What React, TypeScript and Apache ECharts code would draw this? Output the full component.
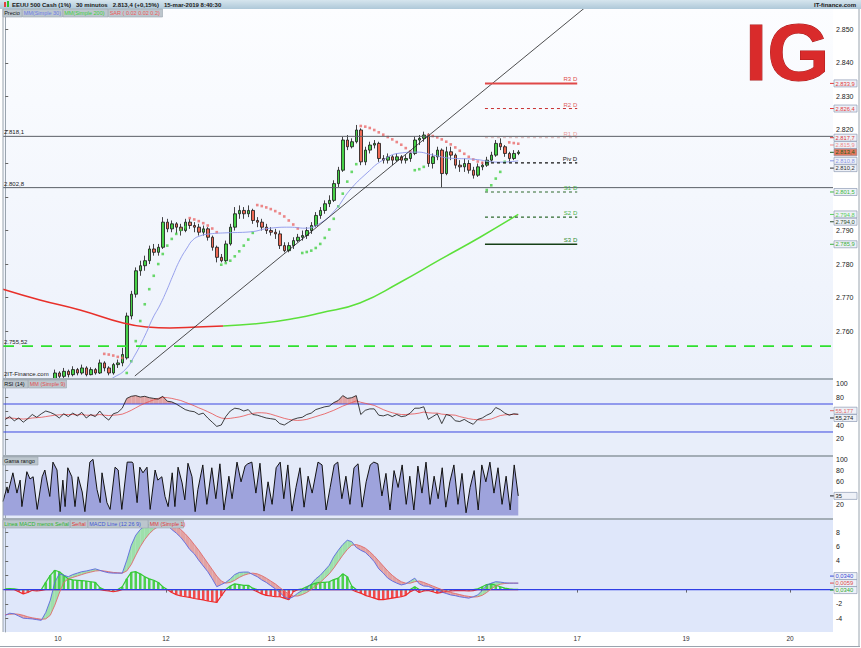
import React, { useEffect, useRef } from 'react';
import * as echarts from 'echarts';

// ---------------- data ----------------
const dayTicks = [11.7, 35.7, 59.1, 81.9, 105.7, 127.1, 151.3, 174.4];
const dayLabels = ['10', '12', '13', '14', '15', '17', '19', '20'];
const priceTicks = [2760, 2770, 2780, 2790, 2800, 2810, 2820, 2830, 2840, 2850];
const rsiTicks = [20, 40, 60, 80, 100];
const gamaTicks = [20, 40, 60, 80, 100];
const macdTicks = [-4, -2, 0, 2, 4, 6, 8];

// [open, close, low, high] per bar
const candles = [
  [2733, 2731, 2729, 2735], [2731, 2733, 2730, 2735], [2733, 2730, 2728, 2734], [2730, 2729, 2727, 2732],
  [2729, 2731, 2728, 2733], [2731, 2730, 2728, 2733], [2730, 2732, 2729, 2734], [2732, 2731, 2729, 2733],
  [2731, 2733, 2730, 2735], [2733, 2738, 2732, 2739], [2738, 2745, 2737, 2745.5],
  [2745.5, 2747.5, 2745, 2748.5], [2747.5, 2746.5, 2745.8, 2748], [2746.5, 2748, 2746, 2749], [2748, 2747, 2746.2, 2748.5],
  [2747, 2748.5, 2746.5, 2749.5], [2748.5, 2747.5, 2746.8, 2749], [2747.5, 2749, 2747, 2750], [2749, 2747, 2746.5, 2749.5],
  [2747, 2748.5, 2746.8, 2749.2], [2748.5, 2747.5, 2747, 2749], [2747.5, 2750.5, 2747.2, 2751.5], [2750.5, 2749, 2748, 2751],
  [2749, 2747.5, 2746.8, 2749.5], [2747.5, 2750, 2747, 2750.5], [2750, 2750.5, 2749, 2751.5], [2750.5, 2753, 2749.5, 2755],
  [2752, 2764.5, 2751.5, 2765.5], [2764.5, 2771, 2763.5, 2772], [2771, 2778, 2770, 2779], [2778, 2779.5, 2776.5, 2781],
  [2779.5, 2781, 2778, 2782.5], [2781, 2784.5, 2780, 2785.5], [2784.5, 2783.5, 2782.5, 2786], [2783.5, 2785, 2782.5, 2786],
  [2785, 2792.5, 2784.5, 2794], [2792.5, 2790.5, 2789.5, 2793.5], [2790.5, 2792, 2789.5, 2793], [2792, 2791, 2789, 2792.5],
  [2791, 2790, 2788.5, 2792], [2790, 2792.5, 2789.5, 2793.5], [2792.5, 2791.5, 2790.5, 2793.5], [2791.5, 2791, 2789.5, 2792.5],
  [2791, 2789.5, 2788.5, 2792], [2789.5, 2790.5, 2788.5, 2791.5], [2790.5, 2788, 2787, 2791], [2788, 2785, 2784, 2788.5],
  [2785, 2782, 2780.5, 2785.5], [2782, 2781, 2780.5, 2783], [2781, 2786, 2780.5, 2787], [2786, 2791, 2785.5, 2792],
  [2791, 2795, 2790, 2797], [2795, 2796, 2793.5, 2797.5], [2796, 2795, 2793.5, 2797], [2795, 2796, 2794, 2797.5],
  [2796, 2793, 2792, 2796.5], [2793, 2792.5, 2791, 2794], [2792.5, 2791, 2790, 2793.5], [2791, 2790, 2789, 2792],
  [2790, 2789.5, 2788.5, 2791], [2789.5, 2789, 2787.5, 2790.5], [2789, 2785.5, 2784.5, 2790], [2785.5, 2784, 2783.5, 2786.5],
  [2784, 2785.5, 2783.5, 2786.5], [2785.5, 2787, 2784.5, 2788], [2787, 2788, 2786.5, 2789], [2788, 2788.5, 2787, 2790],
  [2788.5, 2790, 2787.5, 2791], [2790, 2791.5, 2789, 2792.5], [2791.5, 2794.5, 2791, 2795.5], [2794.5, 2796, 2793.5, 2797],
  [2796, 2798, 2795, 2799], [2798, 2799, 2797, 2800.5], [2799, 2804, 2798.5, 2805], [2804, 2808, 2803, 2809],
  [2808, 2817, 2807.5, 2818], [2817, 2815, 2814, 2818.5], [2815, 2816.5, 2814.5, 2817.5], [2816.5, 2820, 2816, 2821.5],
  [2820, 2810.5, 2809.5, 2820.5], [2810.5, 2814, 2809.5, 2815], [2814, 2815.5, 2813, 2816.5], [2815.5, 2816, 2814.5, 2817],
  [2816, 2811.5, 2810.5, 2816.5], [2811.5, 2811, 2810, 2812.5], [2811, 2812, 2810, 2813], [2812, 2811, 2809.5, 2812.5],
  [2811, 2812, 2810.5, 2813], [2812, 2811, 2810, 2812.5], [2811, 2811.5, 2810, 2812.5], [2811.5, 2813, 2810.5, 2813.5],
  [2813, 2817, 2812.5, 2818], [2817, 2817.5, 2815.5, 2818.5], [2817.5, 2818.5, 2816.5, 2819.5], [2818.5, 2810, 2809, 2819],
  [2810, 2812, 2808.5, 2813], [2812, 2814, 2811, 2815], [2814, 2807, 2802.8, 2814.5], [2807, 2813.5, 2806.5, 2815],
  [2813.5, 2812.5, 2811, 2815], [2812.5, 2809.5, 2808.5, 2813], [2809.5, 2809, 2807.5, 2811], [2809, 2810, 2807.5, 2811.5],
  [2810, 2808, 2807, 2811], [2808, 2806.5, 2805.5, 2809], [2806.5, 2809, 2806, 2810], [2809, 2809.5, 2808, 2810.5],
  [2809.5, 2811, 2809, 2812], [2811, 2812.5, 2810.5, 2813.5], [2812.5, 2816, 2812, 2817], [2816, 2815, 2814, 2817.5],
  [2815, 2813, 2812, 2815.5], [2813, 2811.5, 2810.5, 2813.5], [2811.5, 2813, 2811, 2814], [2813, 2813.4, 2812.5, 2814],
];

// [bar, value]
const ma30 = [
  [20, 2742.5], [23.9, 2746.0], [26.6, 2748.4], [28.8, 2752.8], [31.1, 2758.8], [32.8, 2763.9], [34.4, 2767.8],
  [35.9, 2772.2], [37.3, 2776.7], [38.8, 2781.2], [40.4, 2784.8], [41.7, 2787.2], [43.3, 2788.4], [45.5, 2789.0],
  [48.8, 2789.3], [54.4, 2789.6], [58.8, 2790.7], [63.3, 2791.0], [66.6, 2790.7], [70.0, 2792.2], [73.3, 2796.1],
  [76.6, 2802.1], [80.4, 2807.2], [83.9, 2811.0], [87.7, 2813.1], [91.5, 2813.4], [95.1, 2812.5], [98.8, 2811.6],
  [103.9, 2811.3], [109.9, 2810.4], [114, 2810.8],
];
const ma200Falling = [
  [-0.5, 2772.5], [7.7, 2769.3], [16.6, 2766.3], [26.2, 2762.4], [31.5, 2761.2], [36.6, 2760.9], [42.6, 2761.2], [48.4, 2761.5],
];
const ma200Rising = [
  [48.4, 2761.5], [57.3, 2762.4], [64.8, 2763.9], [70, 2765.4], [78.8, 2768.4], [87.7, 2774.5], [96.6, 2781.3],
  [105.5, 2788.0], [114, 2794.8],
];
const sarUp = [
  [27, 2747.5], [28, 2751], [29, 2757], [30, 2763], [31, 2768], [32, 2772.5], [33, 2776.5], [34, 2780], [35, 2783],
  [36, 2785.5], [37, 2787.5], [38, 2789], [39, 2790.2], [40, 2791],
  [48, 2779.8], [49, 2780.3], [50, 2781], [51, 2782.3], [52, 2783.8], [53, 2785.5], [54, 2787.3], [55, 2789.3],
  [66, 2783.3], [67, 2783.6], [68, 2784], [69, 2784.8], [70, 2786], [71, 2787.8], [72, 2790.3], [73, 2793.5],
  [74, 2797.2], [75, 2801], [76, 2804.6], [77, 2807.5], [78, 2809.8],
  [91, 2808], [92, 2808.3], [93, 2809],
  [107, 2802.1], [108, 2803.5], [109, 2805.5], [110, 2807.5], [111, 2810.5],
];
const sarDown = [
  [22, 2753.2], [23, 2753], [24, 2752.7], [25, 2752.3], [26, 2752],
  [41, 2793.7], [42, 2793.3], [43, 2792.8], [44, 2792.2], [45, 2791.5], [46, 2790.6], [47, 2789.5],
  [56, 2797.6], [57, 2797.3], [58, 2796.9], [59, 2796.4], [60, 2795.8], [61, 2795.1], [62, 2794.2], [63, 2793],
  [64, 2791.8], [65, 2790.6],
  [79, 2821.2], [80, 2821], [81, 2820.6], [82, 2820], [83, 2819.3], [84, 2818.6], [85, 2817.9], [86, 2817.2],
  [87, 2816.4], [88, 2815.6], [89, 2814.6], [90, 2813.6],
  [94, 2818.5], [95, 2818.2], [96, 2817.8], [97, 2817.2], [98, 2816.5], [99, 2815.7], [100, 2814.8], [101, 2813.8],
  [102, 2812.9], [103, 2812], [104, 2811.2], [105, 2810.6], [106, 2810.2],
  [112, 2816.3], [113, 2816.1], [114, 2815.9],
];
const trendLine = [[28.8, 2746.6], [130, 2857.8]];
const levelValues = [2818.1, 2802.8];
const levelLabels = ['2.818,1', '2.802,8'];
const supportValue = 2755.52;
const supportLabel = '2.755,52';
const pivotNames = ['R3 D', 'R2 D', 'R1 D', 'Piv D', 'S1 D', 'S2 D', 'S3 D'];
const pivotValues = [2833.9, 2826.4, 2817.7, 2810.2, 2801.5, 2794.0, 2785.9];
const pivotFrom = 106.6;
const pivotTo = 127.1;

const rsi = [
  48, 52, 46, 50, 44, 49, 55, 51, 56, 60, 58, 55, 50, 56, 52, 57, 53, 58, 50, 55,
  52, 60, 52, 47, 56, 58, 64, 78, 81, 82, 80, 81, 79, 78, 77, 81, 74, 73, 70, 66,
  62, 60, 59, 55, 57, 50, 44, 38, 40, 52, 60, 64, 63, 60, 62, 55, 54, 52, 50, 49,
  48, 42, 40, 44, 48, 50, 51, 55, 57, 62, 64, 66, 67, 72, 75, 82, 78, 79, 82, 55,
  61, 63, 63, 54, 53, 55, 52, 55, 52, 53, 57, 64, 64, 66, 48, 52, 56, 42, 55, 53,
  46, 45, 48, 44, 41, 48, 50, 54, 57, 65, 62, 57, 54, 56, 55.3,
];
const rsiMa = [
  50, 50, 49.5, 49, 48.5, 49, 50, 50.5, 51, 52, 53, 54, 54.5, 55, 55, 55, 54.5, 55, 54, 54,
  54, 55, 54, 53.5, 54, 54.5, 55.5, 58, 61, 64.5, 68, 71, 73.5, 76, 78, 79.5, 79, 78, 76.5, 75,
  72.5, 70, 67.5, 64.5, 62, 59, 56, 52.5, 50, 49, 49.5, 50.5, 51.5, 53, 55, 56.5, 57.5, 57.5, 57, 55.5,
  53.5, 51.5, 49.5, 48, 47, 46.5, 47, 48, 50, 52, 54, 56, 58.5, 61, 64, 67, 69.5, 72, 74.5, 72.5,
  71, 69.5, 68, 65, 62, 59.5, 57.5, 56, 55, 55, 55.5, 56, 57, 58.5, 57.5, 57, 57, 55.5, 55, 54.5,
  54, 52, 50.5, 49, 48, 47.5, 47, 47.5, 48.5, 51, 53.5, 54.5, 55, 55.2, 55.2,
];
const gama = [
  [-0.5, 25], [0.4, 51], [0.6, 40], [1.7, 76], [2.6, 40], [3.3, 63], [3.7, 16], [4.8, 78], [5.5, 65], [6.2, 69],
  [7.1, 11], [8.2, 69], [8.8, 81], [9.9, 34], [10.6, 95], [11.5, 81], [12.2, 7], [12.8, 63], [13.3, 16], [13.9, 85],
  [14.8, 69], [15.5, 16], [16.2, 69], [17.1, 42], [17.7, 7], [18.8, 95], [19.5, 100], [20.4, 46], [21.1, 23], [21.5, 76],
  [22.6, 23], [23.3, 11], [24.4, 86], [25.1, 81], [25.9, 11], [27.1, 95], [28.2, 95], [28.4, 93], [29.3, 23], [29.9, 86],
  [30.6, 76], [31.5, 86], [32.2, 11], [33.3, 81], [33.9, 63], [34.8, 69], [35.5, 34], [36.2, 16], [37.1, 76], [37.7, 16],
  [38.4, 86], [39.3, 58], [39.9, 28], [40.6, 93], [41.5, 69], [42.2, 7], [42.8, 46],
  [43.9, 90], [44.8, 20], [45.9, 85], [46.8, 30], [47.7, 92], [48.6, 10], [49.7, 70], [50.4, 30], [51.5, 95], [52.4, 60],
  [53.3, 88], [53.9, 92], [54.8, 95], [55.7, 40], [56.6, 93], [57.5, 8], [58.4, 60], [59.3, 20], [60.2, 85], [61.1, 95],
  [61.9, 30], [62.8, 90], [63.7, 8], [64.6, 50], [65.5, 85], [66.4, 15], [67.3, 70], [68.2, 40], [69.5, 95], [70.4, 90],
  [71.3, 10], [72.2, 50], [73.1, 90], [73.9, 95], [74.8, 30], [75.7, 70], [76.6, 20], [77.5, 85], [78.4, 92], [79.3, 15],
  [80.2, 60], [81.1, 90], [81.9, 95], [82.8, 92], [83.7, 35], [84.6, 75], [85.5, 10], [86.4, 80], [87.3, 50], [88.2, 90],
  [89.1, 20], [89.9, 70], [90.8, 10], [91.7, 88], [92.6, 40], [93.5, 95], [94.4, 20], [95.3, 70], [96.2, 30], [97.1, 85],
  [97.9, 15], [98.8, 60], [99.7, 90], [100.6, 20], [101.5, 75], [102.4, 5], [103.3, 50], [104.2, 80], [105.1, 10], [105.9, 90],
  [106.8, 60], [107.7, 95], [108.6, 40], [109.5, 85], [110.4, 20], [111.3, 70], [112.2, 10], [113.1, 90], [114, 35],
];
const macd = [
  -3.6, -3.3, -3.4, -3.7, -4.0, -4.05, -4.1, -4.2, -4.3, -3.2, -1.5, 1.0, 2.2, 2.0, 1.8, 2.1, 2.3, 2.5, 2.6, 2.75,
  2.9, 2.7, 2.5, 2.35, 2.3, 2.3, 2.3, 4.1, 6.2, 7.6, 8.4, 8.9, 9.1, 9.25, 9.3, 9.15, 9.0, 8.4, 7.9, 7.3,
  6.5, 5.6, 5.0, 4.1, 3.3, 2.5, 1.5, 0.4, 0.7, 1.0, 1.5, 2.1, 2.4, 2.45, 2.45, 2.1, 1.8, 1.35, 1.0, 0.55,
  0.1, -0.4, -1.0, -1.3, -1.0, -0.5, -0.1, 0.2, 0.8, 1.5, 2.0, 2.7, 3.4, 4.6, 5.5, 6.3, 6.9, 6.7, 5.9, 5.5,
  5.2, 4.6, 3.9, 2.9, 2.3, 1.6, 1.2, 0.9, 0.65, 0.8, 1.2, 1.6, 0.8, 0.5, 0.45, 0.2, -0.1, -0.35, -0.55, -0.75,
  -0.85, -1.0, -1.1, -1.2, -1.0, -0.75, -0.1, 0.6, 0.9, 1.1, 1.05, 0.95, 0.9, 0.9, 0.9,
];
const signal = [
  -3.5, -3.45, -3.4, -3.45, -3.6, -3.8, -3.95, -4.05, -4.15, -4.1, -3.6, -2.2, -0.5, 1.0, 1.5, 1.7, 1.9, 2.1, 2.3, 2.45,
  2.6, 2.65, 2.6, 2.5, 2.4, 2.35, 2.3, 2.6, 3.5, 4.8, 6.0, 7.0, 7.8, 8.4, 8.8, 9.1, 9.25, 9.2, 8.9, 8.4,
  7.8, 7.1, 6.3, 5.5, 4.6, 3.7, 2.8, 1.9, 1.2, 0.9, 1.0, 1.3, 1.7, 2.0, 2.2, 2.3, 2.2, 1.95, 1.6, 1.2,
  0.8, 0.3, -0.2, -0.6, -0.9, -0.9, -0.7, -0.4, 0.0, 0.5, 1.0, 1.6, 2.2, 3.0, 3.9, 4.8, 5.6, 6.2, 6.3, 6.1,
  5.8, 5.3, 4.7, 4.0, 3.3, 2.6, 2.0, 1.5, 1.1, 0.9, 0.9, 1.1, 1.2, 1.0, 0.75, 0.5, 0.25, 0.0, -0.2, -0.4,
  -0.55, -0.7, -0.85, -0.95, -1.05, -1.0, -0.8, -0.4, 0.1, 0.5, 0.75, 0.85, 0.9, 0.9, 0.9,
];
const hist = [
  0.1, 0.15, 0.1, -0.3, -0.6, -0.4, -0.1, -0.2, -0.1, 1.0, 2.0, 2.7, 2.5, 2.0, 1.5, 1.35, 1.3, 1.25, 1.2, 1.1,
  1.0, 0.3, -0.1, -0.2, -0.3, -0.2, 0.4, 1.5, 2.4, 2.5, 2.2, 1.8, 1.5, 1.3, 1.0, 0.4, 0.0, -0.4, -0.7, -0.9,
  -1.0, -1.1, -1.25, -1.35, -1.45, -1.6, -1.7, -1.8, -0.9, 0.0, 0.5, 0.8, 0.7, 0.6, 0.6, 0.2, -0.3, -0.6, -0.8, -0.9,
  -1.0, -1.0, -1.2, -1.4, -0.3, 0.0, 0.1, 0.4, 0.7, 0.9, 1.0, 1.0, 1.1, 1.4, 1.6, 2.2, 1.8, 0.5, -0.3, -0.5,
  -0.8, -1.0, -1.2, -1.4, -1.4, -1.3, -1.2, -1.1, -1.0, -0.8, -0.3, 0.4, -0.4, -0.2, -0.1, -0.3, -0.5, -0.4, -0.3, -0.2,
  -0.15, -0.1, -0.15, -0.2, -0.15, 0.1, 0.4, 0.7, 0.8, 0.6, 0.4, 0.2, 0.1, 0.05, 0.05,
];

const priceTagValues = [2833.9, 2826.4, 2817.7, 2815.9, 2813.4, 2810.8, 2810.2, 2801.5, 2794.8, 2794.0, 2785.9];
const priceTagTexts = ['2.833,9', '2.826,4', '2.817,7', '2.815,9', '2.813,4', '2.810,8', '2.810,2', '2.801,5', '2.794,8', '2.794,0', '2.785,9'];
const rsiTagValues = [55.177, 55.274];
const rsiTagTexts = ['55,177', '55,274'];
const gamaTagValues = [35];
const gamaTagTexts = ['35'];
const macdTagTexts = ['0,0340', '0,0059', '0,0340'];

// ---------------- styles ----------------
const priceTagColors = ['#e23a3a', '#e23a3a', '#d83a3a', '#f08a8a', '#1d5e1d', '#8a95e6', '#333', '#3cb83c', '#5ccf5c', '#2d4d2d', '#3cae3c'];
const priceTagFills = ['#eef1f7', '#eef1f7', '#eef1f7', '#eef1f7', '#e5785f', '#eef1f7', '#eef1f7', '#eef1f7', '#eef1f7', '#eef1f7', '#eef1f7'];
const pivotColors = ['#e04848', '#c83030', '#d8b4b4', '#111', '#2e6a2e', '#2e6a2e', '#164016'];
const pivotLabelColors = ['#e04848', '#e06060', '#e89a9a', '#111', '#47b347', '#47b347', '#2a8a2a'];
const pivotDashed = [false, true, true, true, true, true, false];
const pivotWidths = [2, 1, 1, 1.2, 1.2, 1.2, 1.5];
const FONT = 'Liberation Sans';
const TAG_H = 7;
const TAG_GAP = 7.3;

const X_MIN = -0.5;
const X_MAX = 183.94;

const fmtPrice = (v: number) => {
  const s = String(Math.round(v));
  return s.slice(0, 1) + '.' + s.slice(1);
};

export default function App() {
  const ref = useRef<HTMLDivElement>(null);
  useEffect(() => {
    document.body.style.margin = '0';
    const chart = echarts.init(ref.current!, null, { renderer: 'svg' });

    const grids = [
      { left: 3, top: 9, width: 830, height: 369 },
      { left: 3, top: 380, width: 830, height: 75 },
      { left: 3, top: 457, width: 830, height: 61 },
      { left: 3, top: 520, width: 830, height: 112 },
    ];
    const bgs = [
      new echarts.graphic.LinearGradient(0, 0, 0, 1, [
        { offset: 0, color: '#fcfdff' },
        { offset: 1, color: '#ecf1fb' },
      ]),
      '#e8eefa',
      '#e4eaf9',
      '#dfe7fa',
    ];
    const yRanges = [
      [2746.0, 2856.1],
      [-2.86, 104.29],
      [-4.26, 104.1],
      [-5.93, 9.73],
    ];
    const yTicks = [priceTicks, rsiTicks, gamaTicks, macdTicks];

    const xAxes = grids.map((_, i) => {
      const bottom = i === 3;
      return {
        type: 'value',
        gridIndex: i,
        min: X_MIN,
        max: X_MAX,
        show: bottom,
        splitLine: { show: false },
        axisLine: { show: bottom, lineStyle: { color: '#9aa4ae', width: 1 } },
        axisTick: { show: bottom, customValues: dayTicks, length: 3, lineStyle: { color: '#666' } },
        axisLabel: {
          show: bottom,
          customValues: dayTicks,
          fontSize: 6.5,
          fontFamily: FONT,
          color: '#333',
          margin: 3,
          formatter: (v: number) => {
            const k = dayTicks.findIndex((t) => Math.abs(t - v) < 0.01);
            return k >= 0 ? dayLabels[k] : '';
          },
        },
      };
    });
    const makeYAxes = (labelVals: number[][]) =>
      grids.map((_, i) => ({
        type: 'value',
        gridIndex: i,
        position: 'right',
        min: yRanges[i][0],
        max: yRanges[i][1],
        splitLine: { show: false },
        axisLine: { show: true, lineStyle: { color: '#9aa4ae', width: 1 } },
        axisTick: { show: true, customValues: yTicks[i], length: 3, lineStyle: { color: '#666' } },
        axisLabel: {
          customValues: labelVals[i],
          fontSize: 7,
          fontFamily: FONT,
          color: '#222',
          margin: 3,
          formatter: i === 0 ? (v: number) => fmtPrice(v) : (v: number) => String(v),
        },
      }));

    const idx = (arr: number[]) => arr.map((v, i) => [i, v]);
    const series: any[] = [];

    // main grid
    series.push({
      type: 'candlestick',
      xAxisIndex: 0,
      yAxisIndex: 0,
      data: candles.map((c, i) => [i, c[0], c[1], c[2], c[3]]),
      encode: { x: 0, y: [1, 2, 3, 4] },
      barWidth: 3,
      clip: true,
      itemStyle: { color: '#47d147', color0: '#ee6a55', borderColor: '#151515', borderColor0: '#151515', borderWidth: 0.8 },
    });
    series.push({
      type: 'line', xAxisIndex: 0, yAxisIndex: 0, data: ma200Falling, smooth: true, symbol: 'none',
      lineStyle: { color: '#e8302a', width: 1.5 },
    });
    series.push({
      type: 'line', xAxisIndex: 0, yAxisIndex: 0, data: ma200Rising, smooth: true, symbol: 'none',
      lineStyle: { color: '#5ce03a', width: 1.5 },
    });
    series.push({
      type: 'line', xAxisIndex: 0, yAxisIndex: 0, data: ma30, smooth: true, symbol: 'none',
      lineStyle: { color: '#8c96ea', width: 0.9 },
    });
    levelValues.forEach((v) => {
      series.push({
        type: 'line', xAxisIndex: 0, yAxisIndex: 0, symbol: 'none',
        data: [[X_MIN, v], [X_MAX, v]],
        lineStyle: { color: '#5a5f66', width: 1 },
      });
    });
    series.push({
      type: 'line', xAxisIndex: 0, yAxisIndex: 0, symbol: 'none',
      data: [[X_MIN, supportValue], [X_MAX, supportValue]],
      lineStyle: { color: '#2fe02f', width: 1.6, type: [11, 8] },
    });
    series.push({
      type: 'line', xAxisIndex: 0, yAxisIndex: 0, data: trendLine, symbol: 'none', clip: true,
      lineStyle: { color: '#222', width: 0.8 },
    });
    pivotValues.forEach((v, k) => {
      series.push({
        type: 'line', xAxisIndex: 0, yAxisIndex: 0, symbol: 'none',
        data: [[pivotFrom, v], [pivotTo, v]],
        lineStyle: { color: pivotColors[k], width: pivotWidths[k], type: pivotDashed[k] ? [3, 3] : 'solid' },
      });
    });
    series.push({
      type: 'scatter', xAxisIndex: 0, yAxisIndex: 0, data: sarUp, symbol: 'rect', symbolSize: 2.6,
      itemStyle: { color: '#45d045' },
    });
    series.push({
      type: 'scatter', xAxisIndex: 0, yAxisIndex: 0, data: sarDown, symbol: 'rect', symbolSize: 2.6,
      itemStyle: { color: '#ea6a6a' },
    });

    // RSI grid: overbought fill between the RSI line and 70
    series.push({
      type: 'custom', xAxisIndex: 1, yAxisIndex: 1, clip: true,
      data: rsi.slice(0, -1).map((v, i) => [i, v, rsi[i + 1]]),
      encode: { x: 0, y: [1, 2] },
      renderItem: (params: any, api: any) => {
        const i = api.value(0), r0 = api.value(1), r1 = api.value(2), L = 70;
        let pts: number[][] = [];
        if (r0 > L && r1 > L) pts = [[i, r0], [i + 1, r1], [i + 1, L], [i, L]];
        else if (r0 > L) { const t = (r0 - L) / (r0 - r1); pts = [[i, r0], [i + t, L], [i, L]]; }
        else if (r1 > L) { const t = (L - r0) / (r1 - r0); pts = [[i + t, L], [i + 1, r1], [i + 1, L]]; }
        if (!pts.length) return { type: 'group', children: [] };
        return { type: 'polygon', shape: { points: pts.map((p) => api.coord(p)) }, style: { fill: '#e2a4a4' } };
      },
    });
    [70, 30].forEach((lv) => {
      series.push({
        type: 'line', xAxisIndex: 1, yAxisIndex: 1, symbol: 'none',
        data: [[X_MIN, lv], [X_MAX, lv]], lineStyle: { color: '#3a46e0', width: 1 },
      });
    });
    series.push({
      type: 'line', xAxisIndex: 1, yAxisIndex: 1, data: idx(rsiMa), symbol: 'none',
      lineStyle: { color: '#e85050', width: 0.8 },
    });
    series.push({
      type: 'line', xAxisIndex: 1, yAxisIndex: 1, data: idx(rsi), symbol: 'none',
      lineStyle: { color: '#111', width: 0.8 },
    });

    // Gama grid
    series.push({
      type: 'line', xAxisIndex: 2, yAxisIndex: 2, data: gama, symbol: 'none',
      lineStyle: { color: '#111', width: 1 }, areaStyle: { color: '#9ea3dc', opacity: 1 },
    });

    // MACD grid: band between MACD and signal
    series.push({
      type: 'custom', xAxisIndex: 3, yAxisIndex: 3, clip: true,
      data: macd.slice(0, -1).map((m, i) => [i, m, signal[i], macd[i + 1], signal[i + 1]]),
      encode: { x: 0, y: [1, 2, 3, 4] },
      renderItem: (params: any, api: any) => {
        const i = api.value(0), m0 = api.value(1), s0 = api.value(2), m1 = api.value(3), s1 = api.value(4);
        const d0 = m0 - s0, d1 = m1 - s1;
        const col = (d: number) => (d >= 0 ? '#9ee0ab' : '#e3a3a3');
        const poly = (pts: number[][], fill: string) => ({
          type: 'polygon', shape: { points: pts.map((p) => api.coord(p)) }, style: { fill },
        });
        if (d0 * d1 < 0) {
          const t = d0 / (d0 - d1);
          const c = [i + t, m0 + t * (m1 - m0)];
          return { type: 'group', children: [poly([[i, m0], c, [i, s0]], col(d0)), poly([c, [i + 1, m1], [i + 1, s1]], col(d1))] };
        }
        return poly([[i, m0], [i + 1, m1], [i + 1, s1], [i, s0]], col(d0 + d1));
      },
    });
    series.push({
      type: 'bar', xAxisIndex: 3, yAxisIndex: 3, data: idx(hist), barWidth: 2.5,
      itemStyle: { color: (p: any) => (p.value[1] >= 0 ? '#4fd04f' : '#f04a4a') },
    });
    series.push({
      type: 'line', xAxisIndex: 3, yAxisIndex: 3, data: hist.map((v, i) => [i, Math.max(v, 0)]), symbol: 'none',
      lineStyle: { color: '#35c935', width: 1.2 },
    });
    series.push({
      type: 'line', xAxisIndex: 3, yAxisIndex: 3, data: hist.map((v, i) => [i, Math.min(v, 0)]), symbol: 'none',
      lineStyle: { color: '#ee2a2a', width: 1.2 },
    });
    series.push({
      type: 'line', xAxisIndex: 3, yAxisIndex: 3, symbol: 'none',
      data: [[X_MIN, 0], [X_MAX, 0]], lineStyle: { color: '#2f3fe6', width: 1.4 },
    });
    series.push({
      type: 'line', xAxisIndex: 3, yAxisIndex: 3, data: idx(signal), symbol: 'none',
      lineStyle: { color: '#e06a6a', width: 0.9 },
    });
    series.push({
      type: 'line', xAxisIndex: 3, yAxisIndex: 3, data: idx(macd), symbol: 'none',
      lineStyle: { color: '#5a68e0', width: 0.9 },
    });

    chart.setOption({
      animation: false,
      grid: grids.map((g, i) => ({ ...g, show: true, backgroundColor: bgs[i], borderWidth: 0 })),
      xAxis: xAxes,
      yAxis: makeYAxes(yTicks),
      series,
    });

    // ----- decorations, in-chart labels & value tags -----
    const g: any[] = [];
    const txt = (x: number, y: number, text: string, fill: string, size = 6.5, weight = 'normal', align = 'left') => ({
      type: 'text', x, y, silent: true, z: 100,
      style: { text, fill, fontSize: size, fontFamily: FONT, fontWeight: weight, textAlign: align, textVerticalAlign: 'middle' },
    });
    const px = (axis: number, xv: number, yv: number) =>
      chart.convertToPixel({ xAxisIndex: axis, yAxisIndex: axis } as any, [xv, yv]) as number[];
    const py = (axis: number, v: number) => chart.convertToPixel({ yAxisIndex: axis } as any, v) as number;

    g.push({
      type: 'rect', shape: { x: 0, y: 0, width: 861, height: 9 }, z: 90,
      style: { fill: new echarts.graphic.LinearGradient(0, 0, 0, 1, [{ offset: 0, color: '#d6e5ee' }, { offset: 1, color: '#aec8d8' }]) },
    });
    g.push({ type: 'rect', shape: { x: 4, y: 2, width: 2, height: 5 }, z: 100, style: { fill: '#e04040' } });
    g.push({ type: 'rect', shape: { x: 7, y: 1, width: 2, height: 6 }, z: 100, style: { fill: '#30c030' } });
    g.push(txt(12, 4.7, 'EEUU 500 Cash (1%)   30 minutos   2.813,4 (+0,15%)   15-mar-2019 8:40:30', '#1a1a1a', 6, 'bold'));
    g.push(txt(856, 4.7, 'IT-finance.com', '#1a1a1a', 6, 'bold', 'right'));
    g.push({ type: 'rect', shape: { x: 3, y: 378, width: 830, height: 2 }, z: 95, style: { fill: '#a3adb6' } });
    g.push({ type: 'rect', shape: { x: 3, y: 455, width: 830, height: 2 }, z: 95, style: { fill: '#a3adb6' } });
    g.push({ type: 'rect', shape: { x: 3, y: 518, width: 830, height: 2 }, z: 95, style: { fill: '#a3adb6' } });
    g.push({ type: 'line', shape: { x1: 3, y1: 9, x2: 3, y2: 632 }, z: 95, style: { stroke: '#9aa4ae', lineWidth: 1 } });
    g.push({ type: 'line', shape: { x1: 859, y1: 9, x2: 859, y2: 647 }, z: 95, style: { stroke: '#9aa4ae', lineWidth: 1 } });
    g.push({ type: 'line', shape: { x1: 0, y1: 646.5, x2: 860, y2: 646.5 }, z: 95, style: { stroke: '#9aa4ae', lineWidth: 1 } });

    const legendRow = (x0: number, y0: number, items: [string, string, number][]) => {
      let x = x0;
      items.forEach(([t, c, w]) => {
        g.push({ type: 'rect', shape: { x, y: y0, width: w, height: 8 }, z: 99, style: { fill: '#bcc6cd', stroke: '#9aa6ae', lineWidth: 0.6 } });
        g.push(txt(x + 1.2, y0 + 4.2, t, c, 5.5));
        x += w + 0.5;
      });
    };
    legendRow(3, 9, [['Precio', '#111', 19], ['MM(Simple 30)', '#6c7ce6', 40], ['MM(Simple 200)', '#3ccf3c', 45], ['SAR ( 0.02 0.02 0.2)', '#ee5a5a', 54]]);
    legendRow(3, 380, [['RSI (14)', '#111', 25], ['MM (Simple 9)', '#e25050', 38]]);
    legendRow(3, 457, [['Gama rango', '#111', 35]]);
    legendRow(3, 520, [['Linea MACD menos Señal', '#2fb52f', 67], ['Señal', '#e03a3a', 17], ['MACD Line (12 26 9)', '#4356d6', 60], ['MM (Simple 1)', '#e03a3a', 35]]);

    g.push(txt(4, 374, '2IT-Finance.com', '#222', 6));

    g.push({
      type: 'text', x: 745, y: 52, z: 98, silent: true,
      style: { text: 'IG', fill: '#d92b2b', fontSize: 80, fontFamily: FONT, fontWeight: 'bold', textVerticalAlign: 'middle', stroke: '#a81c1c', lineWidth: 1 },
    });

    const tagYs: number[][] = [[], [], [], []];
    const tagBox = (axis: number, y: number, text: string, color: string, fill: string) => {
      tagYs[axis].push(y);
      g.push({ type: 'line', shape: { x1: 830, y1: y, x2: 834, y2: y }, z: 100, style: { stroke: color, lineWidth: 1 } });
      g.push({ type: 'rect', shape: { x: 834, y: y - TAG_H / 2, width: 23, height: TAG_H }, z: 100, style: { fill, stroke: '#8e9bb5', lineWidth: 0.7 } });
      g.push(txt(835.5, y + 0.2, text, color, 5.8));
    };
    const placeTags = (axis: number, values: number[], texts: string[], colors: string[], fills: string[], center = false, keepOrder = false) => {
      const items = values.map((v, k) => ({ y: py(axis, v), k }));
      if (!keepOrder) items.sort((a, b) => a.y - b.y);
      let prev = -1e9;
      let shift = 0;
      items.forEach((it) => {
        if (it.y < prev + TAG_GAP) { shift += prev + TAG_GAP - it.y; it.y = prev + TAG_GAP; }
        prev = it.y;
      });
      const off = center ? shift / 2 : 0;
      items.forEach((it) => tagBox(axis, it.y - off, texts[it.k], colors[it.k], fills[it.k]));
    };
    let yAxesFinal = makeYAxes(yTicks);
    try {
      levelValues.forEach((v, k) => g.push(txt(4, py(0, v) - 4, levelLabels[k], '#222', 6)));
      g.push(txt(4, py(0, supportValue) - 4, supportLabel, '#222', 6));
      pivotValues.forEach((v, k) => {
        const p = px(0, pivotTo, v);
        g.push(txt(p[0], p[1] - 4, pivotNames[k], pivotLabelColors[k], 6, 'normal', 'right'));
      });
      placeTags(0, priceTagValues, priceTagTexts, priceTagColors, priceTagFills);
      placeTags(1, rsiTagValues, rsiTagTexts, ['#e26a6a', '#222'], ['#eef1f7', '#eef1f7'], true, true);
      placeTags(2, gamaTagValues, gamaTagTexts, ['#222'], ['#eef1f7']);
      const y0 = py(3, 0);
      tagBox(3, y0 - 13.5, macdTagTexts[0], '#3a4ad8', '#eef1f7');
      tagBox(3, y0 - 6.5, macdTagTexts[1], '#e04a4a', '#eef1f7');
      tagBox(3, y0 + 0.5, macdTagTexts[2], '#2eaa2e', '#eef1f7');
      // axis labels hidden behind the value tags, as in the original
      const visible = yTicks.map((ticks, a) => ticks.filter((t) => tagYs[a].every((ty) => Math.abs(py(a, t) - ty) > 6.2)));
      yAxesFinal = makeYAxes(visible);
    } catch (e) {
      console.error(e);
    }

    chart.setOption({ yAxis: yAxesFinal, graphic: g });

    return () => chart.dispose();
  }, []);
  return <div ref={ref} style={{ width: 861, height: 648, position: 'absolute', left: 0, top: 0 }} />;
}
